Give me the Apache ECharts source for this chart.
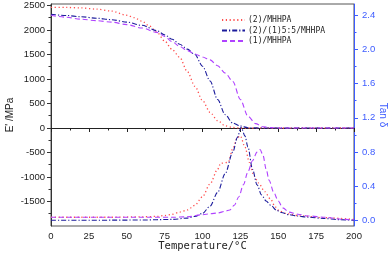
<!DOCTYPE html>
<html><head><meta charset="utf-8">
<script src="https://cdn.jsdelivr.net/npm/echarts@6/dist/echarts.min.js"></script>
<style>html,body{margin:0;padding:0;background:#fff}#c{width:392px;height:253px}</style>
</head><body><div id="c"></div>
<script>
// ---- data ----
var names = ['(2)/MHHPA', '(2)/(1)5:5/MHHPA', '(1)/MHHPA'];
var xTicks = [0, 25, 50, 75, 100, 125, 150, 175, 200];
var xMinor = [12.5, 37.5, 62.5, 87.5, 112.5, 137.5, 162.5, 187.5];
var eTicks = [-1500, -1000, -500, 0, 500, 1000, 1500, 2000, 2500];
var eMinor = [-1750, -1250, -750, -250, 250, 750, 1250, 1750, 2250];
var tTicks = [0, 0.4, 0.8, 1.2, 1.6, 2.0, 2.4];
var tMinor = [0.2, 0.6, 1.0, 1.4, 1.8, 2.2];

// E' curves
var eRedT = [0,10,20,30,40,50,55,60,65,70,75,80,85,90,95,100,105,110,115,120,125,130,140,150,175,200];
var eRedV = [2460,2460,2450,2425,2385,2300,2250,2180,2080,1950,1775,1600,1440,1150,850,560,320,150,45,10,0,0,0,0,0,0];
var eBlueT = [0,10,20,30,40,50,60,70,75,80,85,90,95,100,105,110,115,120,125,130,140,200];
var eBlueV = [2320,2295,2270,2240,2210,2160,2095,1985,1900,1810,1710,1610,1500,1260,960,580,270,100,40,5,0,0];
var ePurT = [0,10,20,30,40,50,60,70,75,80,85,90,95,100,105,110,115,120,125,130,135,140,145,150,200];
var ePurV = [2300,2260,2220,2190,2160,2110,2040,1950,1870,1760,1660,1580,1510,1450,1390,1270,1120,950,580,240,90,25,8,0,0];

// tan delta curves
var tRedT = [0,20,40,60,70,75,80,85,90,95,100,105,110,112,117,120,123,125,128,131,134,137,141,145,148,151,156,165,180,200];
var tRedV = [0.04,0.04,0.04,0.045,0.05,0.06,0.075,0.1,0.125,0.18,0.28,0.43,0.6,0.67,0.68,0.84,0.97,0.99,0.86,0.68,0.52,0.44,0.34,0.25,0.16,0.11,0.08,0.055,0.035,0.015];
var tBlueT = [0,20,40,60,80,90,95,100,105,110,115,120,123,125.5,128,130,133,136,139,142,145,149,152,157,162,170,180,190,200];
var tBlueV = [0.005,0.005,0.006,0.008,0.015,0.03,0.05,0.085,0.17,0.33,0.55,0.8,0.97,1.09,0.99,0.86,0.6,0.42,0.3,0.23,0.18,0.12,0.095,0.07,0.055,0.04,0.026,0.012,0.005];
var tPurT = [0,20,40,60,80,90,100,105,110,115,118,121,124,127,130,133,136,138,140,142,144,147,150,153,157,163,170,181,192,200];
var tPurV = [0.04,0.04,0.04,0.04,0.04,0.045,0.07,0.08,0.09,0.11,0.125,0.18,0.28,0.42,0.57,0.7,0.8,0.83,0.76,0.6,0.47,0.33,0.23,0.15,0.1,0.075,0.055,0.04,0.016,0.01];

function pairs(xs, ys) { return xs.map(function (x, i) { return [x, ys[i]]; }); }

var red = '#ff4d4d', blue = '#1c1c9c', purple = '#b042ff', axisBlue = '#3d5cff';
var styles = [
  { color: red, type: [1.2, 2.6], width: 1.3 },
  { color: blue, type: [5, 2, 1.2, 2], width: 1.1 },
  { color: purple, type: [5, 3], width: 1.1 }
];
var eData = [pairs(eRedT, eRedV), pairs(eBlueT, eBlueV), pairs(ePurT, ePurV)];
var tData = [pairs(tRedT, tRedV), pairs(tBlueT, tBlueV), pairs(tPurT, tPurV)];

var series = [];
for (var i = 0; i < 3; i++) {
  [eData[i], tData[i]].forEach(function (d, k) {
    series.push({
      name: names[i], type: 'line', xAxisIndex: 0, yAxisIndex: k === 0 ? 0 : 1,
      data: d, symbol: 'none', showSymbol: false, smooth: 0.3, smoothMonotone: 'x',
      color: styles[i].color,
      lineStyle: { color: styles[i].color, type: styles[i].type, width: styles[i].width },
      animation: false
    });
  });
}

function plain(v) { return String(v); }
var lab = { fontFamily: 'Liberation Sans', fontSize: 9.5, color: '#222' };
var gridBox = { left: 51, right: 38, top: 4, bottom: 27, containLabel: false, outerBoundsMode: 'none' };
var chart = echarts.init(document.getElementById('c'), null, { renderer: 'canvas' });
chart.setOption({
  animation: false,
  grid: [
    Object.assign({ show: true, borderColor: '#555', borderWidth: 1, backgroundColor: 'transparent' }, gridBox),
    Object.assign({ show: false }, gridBox)
  ],
  legend: {
    orient: 'vertical', left: 216, top: 11, itemWidth: 23, itemHeight: 10, itemGap: 2.5,
    data: names, selectedMode: false,
    itemStyle: { opacity: 0 },
    textStyle: { fontFamily: 'DejaVu Sans Mono', fontSize: 8, color: '#222', padding: [0, 0, 0, -2] }
  },
  xAxis: [
    { type: 'value', gridIndex: 0, min: 0, max: 200, position: 'bottom',
      name: 'Temperature/°C', nameLocation: 'middle', nameGap: 15, nameMoveOverlap: false,
      nameTextStyle: { fontFamily: 'DejaVu Sans Mono', fontSize: 10.5, color: '#222' },
      axisLine: { lineStyle: { color: '#222', width: 1 } },
      axisTick: { customValues: xTicks, length: 4, inside: false, lineStyle: { color: '#222' } },
      axisLabel: Object.assign({ customValues: xTicks, margin: 5, formatter: plain }, lab),
      splitLine: { show: false } },
    { type: 'value', gridIndex: 1, min: 0, max: 200, position: 'bottom',
      axisLine: { show: false },
      axisTick: { customValues: xMinor, length: 2.5, lineStyle: { color: '#222' } },
      axisLabel: { show: false }, splitLine: { show: false } }
  ],
  yAxis: [
    { type: 'value', gridIndex: 0, min: -2000, max: 2530, position: 'left',
      name: "E' /MPa", nameLocation: 'middle', nameGap: 36, nameRotate: 90, nameMoveOverlap: false,
      nameTextStyle: { fontFamily: 'Liberation Sans', fontSize: 10, color: '#222' },
      axisLine: { show: true, lineStyle: { color: '#333' } },
      axisTick: { show: true, customValues: eTicks, length: 4, lineStyle: { color: '#333' } },
      axisLabel: Object.assign({ customValues: eTicks, margin: 6, formatter: plain }, lab),
      splitLine: { show: false } },
    { type: 'value', gridIndex: 0, min: -0.062, max: 2.528, position: 'right',
      name: 'Tan δ', nameLocation: 'middle', nameGap: 24, nameRotate: -90, nameMoveOverlap: false,
      nameTextStyle: { fontFamily: 'Liberation Sans', fontSize: 10, color: axisBlue },
      axisLine: { show: true, lineStyle: { color: axisBlue, width: 1 } },
      axisTick: { show: true, customValues: tTicks, length: 4, lineStyle: { color: axisBlue } },
      axisLabel: Object.assign({}, lab, { customValues: tTicks, margin: 8, color: axisBlue,
        formatter: function (v) { return v.toFixed(1); } }),
      splitLine: { show: false } },
    { type: 'value', gridIndex: 1, min: -2000, max: 2530, position: 'left',
      axisLine: { show: false },
      axisTick: { show: true, customValues: eMinor, length: 2.5, lineStyle: { color: '#333' } },
      axisLabel: { show: false }, splitLine: { show: false } },
    { type: 'value', gridIndex: 1, min: -0.062, max: 2.528, position: 'right',
      axisLine: { show: false },
      axisTick: { show: true, customValues: tMinor, length: 2.5, lineStyle: { color: axisBlue } },
      axisLabel: { show: false }, splitLine: { show: false } }
  ],
  series: series
});
</script></body></html>
